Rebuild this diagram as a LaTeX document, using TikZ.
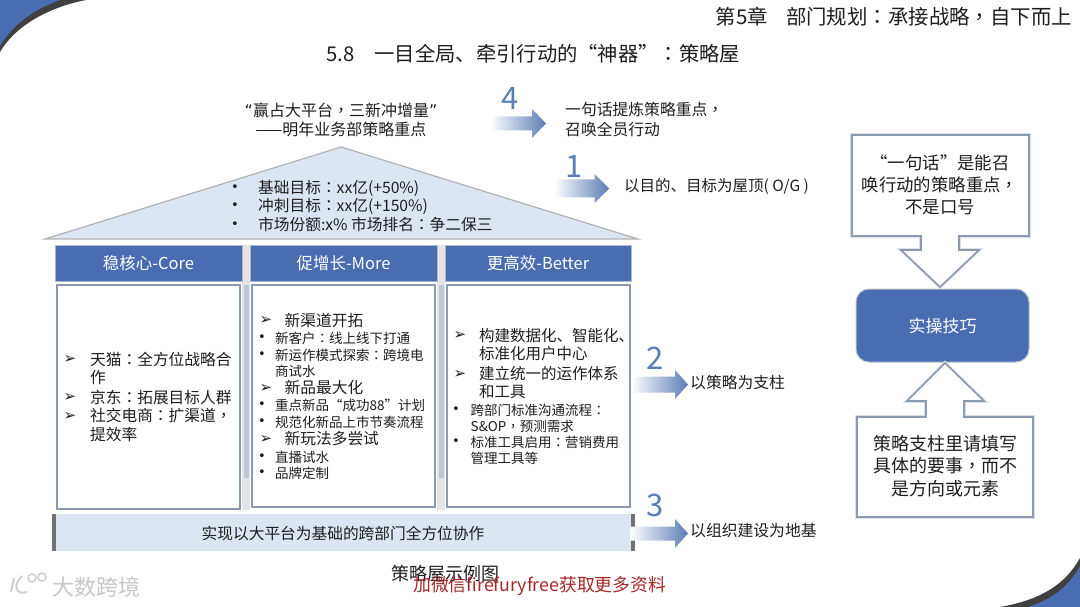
\documentclass[tikz,border=0pt]{standalone}
\usepackage{fontspec}
\setmainfont{Noto Sans CJK SC}
\newfontfamily\tcf{Noto Sans CJK TC}
\newfontfamily\djf{DejaVu Sans}
\newcommand\cl{{\tcf ：}}
\newcommand\cm{{\tcf ，}}
\newcommand\blockarrow[5]{% start, head base, tip, centre y, shaft half height
  \shade[left color=white,right color=numc] (#1,#4-#5) -- (#2,#4-#5) -- (#2,#4-14.5) -- (#3,#4) -- (#2,#4+14.5) -- (#2,#4+#5) -- (#1,#4+#5) -- cycle;}
\definecolor{hblue}{HTML}{4A6CB0}
\definecolor{roof}{HTML}{DCE6F2}
\definecolor{edge}{HTML}{8C9AB0}
\definecolor{numc}{HTML}{5B7DB5}
\definecolor{ink}{HTML}{1E1E1E}
\tikzset{
  sz/.style={font=\fontsize{#1}{#1}\selectfont},
  tl/.style={inner sep=0pt,anchor=west,text=ink},
  tc/.style={inner sep=0pt,anchor=center,text=ink},
  abul/.style={inner sep=0pt,anchor=center,text=ink,font=\djf\fontsize{15}{15}\selectfont},
  dbul/.style={inner sep=0pt,anchor=center,text=ink,font=\djf\fontsize{13}{13}\selectfont},
  num/.style={inner sep=0pt,anchor=center,text=numc,font=\fontsize{31}{31}\selectfont},
  head/.style={fill=hblue,draw=edge!70,line width=0.8pt},
  body/.style={fill=white,draw=edge,line width=2pt},
  callout/.style={fill=white,draw=edge,line width=1.6pt,line join=miter,preaction={draw=edge!30,line width=3.6pt}},
}
\begin{document}
\begin{tikzpicture}[x=1pt,y=-1pt]
\useasboundingbox (0,0) rectangle (1080,607);
\fill[white] (0,0) rectangle (1080,607);
% corners
\fill[black!75] (0,52) .. controls (14,28) and (45,8) .. (86,0) -- (0,0) -- cycle;
\fill[hblue] (0,46) .. controls (12,26) and (32,10) .. (60,0) -- (0,0) -- cycle;
\fill[black!75] (1000,607) .. controls (1040,600) and (1065,585) .. (1080,558) -- (1080,607) -- cycle;
\fill[hblue] (1028,607) .. controls (1050,600) and (1068,588) .. (1080,566) -- (1080,607) -- cycle;
% titles
\node[inner sep=0pt,anchor=east,text=ink,sz=20.4] (chap) at (1072,17) {第5章\hspace{0.9em}部门规划\cl 承接战略\cm 自下而上};
\node[tl,sz=20.3] (title) at (326,54) {5.8\hspace{1em}一目全局、牵引行动的“神器”\cl 策略屋};
% roof
\fill[roof,draw=black!30,line width=1.2pt,line join=miter] (45,239) -- (341,147) -- (638,239) -- cycle;
% gutters
\fill[black!10] (242,245) rectangle (250,510);
\fill[black!10] (437,245) rectangle (445,510);
\fill[edge!55] (244,285) rectangle (249,478);
\fill[edge!55] (439,285) rectangle (444,478);
% headers
\node[head,minimum width=187pt,minimum height=36pt,inner sep=0pt,text=white,sz=16.5] (h1) at (148.5,263) {稳核心-Core};
\node[head,minimum width=187pt,minimum height=36pt,inner sep=0pt,text=white,sz=16.5] (h2) at (343.5,263) {促增长-More};
\node[head,minimum width=186pt,minimum height=36pt,inner sep=0pt,text=white,sz=16.5] (h3) at (538,263) {更高效-Better};
% bodies
\node[body,minimum width=183pt,minimum height=224pt,inner sep=0pt] (b1) at (148.5,397) {};
\node[body,minimum width=183pt,minimum height=222pt,inner sep=0pt] (b2) at (343.5,396) {};
\node[body,minimum width=183pt,minimum height=222pt,inner sep=0pt] (b3) at (538.5,396) {};
% foundation
\fill[roof] (55,514) rectangle (633,551);
\fill[black!55] (52,514) rectangle (56,551);
\fill[black!55] (631,514) rectangle (635,551);
\node[tc,sz=15.7] (found) at (343,533) {实现以大平台为基础的跨部门全方位协作};
% top quote
\node[tc,sz=16] (q1) at (341,110) {{\djf “}赢占大平台\cm 三新冲增量{\djf ”}};
\node[tc,sz=16] (q2) at (341,129) {——明年业务部策略重点};
% roof bullets
\node[dbul] (rb1) at (235,188) {•};
\node[dbul] (rb2) at (235,206) {•};
\node[dbul] (rb3) at (235,225) {•};
\node[tl,sz=15.7] (r1) at (258,188) {基础目标\cl xx亿(+50\%)};
\node[tl,sz=15.7] (r2) at (258,206) {冲刺目标\cl xx亿(+150\%)};
\node[tl,sz=15.7] (r3) at (258,225) {市场份额:x\% 市场排名\cl 争二保三};
% column 1
\node[abul] (c1x) at (70,359) {➢};
\node[abul] (c1y) at (70,397) {➢};
\node[abul] (c1z) at (70,416) {➢};
\node[tl,sz=15.7] (c1a) at (90,359) {天猫\cl 全方位战略合};
\node[tl,sz=15.7] (c1b) at (90,378) {作};
\node[tl,sz=15.7] (c1c) at (90,397) {京东\cl 拓展目标人群};
\node[tl,sz=15.7] (c1d) at (90,416) {社交电商\cl 扩渠道\cm};
\node[tl,sz=15.7] (c1e) at (90,435) {提效率};
% column 2
\node[abul] (c2x) at (266,321) {➢};
\node[abul] (c2y) at (266,388) {➢};
\node[abul] (c2z) at (266,439) {➢};
\node[dbul] (c2p) at (262,338) {•};
\node[dbul] (c2q) at (262,355) {•};
\node[dbul] (c2r) at (262,405) {•};
\node[dbul] (c2s) at (262,422) {•};
\node[dbul] (c2t) at (262,457) {•};
\node[dbul] (c2u) at (262,473) {•};
\node[tl,sz=15.7] (c2a) at (284.5,321) {新渠道开拓};
\node[tl,sz=13.5] (c2b) at (275,338) {新客户\cl 线上线下打通};
\node[tl,sz=13.5] (c2c) at (275,355) {新运作模式探索\cl 跨境电};
\node[tl,sz=13.5] (c2d) at (275,371) {商试水};
\node[tl,sz=15.7] (c2e) at (284.5,388) {新品最大化};
\node[tl,sz=13.5] (c2f) at (275,405) {重点新品“成功88”计划};
\node[tl,sz=13.5] (c2g) at (275,422) {规范化新品上市节奏流程};
\node[tl,sz=15.7] (c2h) at (284.5,439) {新玩法多尝试};
\node[tl,sz=13.5] (c2i) at (275,457) {直播试水};
\node[tl,sz=13.5] (c2j) at (275,473) {品牌定制};
% column 3
\node[abul] (c3x) at (460,336) {➢};
\node[abul] (c3y) at (460,374) {➢};
\node[dbul] (c3p) at (456,410) {•};
\node[dbul] (c3q) at (456,442) {•};
\node[tl,sz=15.5] (c3a) at (479,336) {构建数据化、智能化、};
\node[tl,sz=15.5] (c3b) at (479,354) {标准化用户中心};
\node[tl,sz=15.5] (c3c) at (479,374) {建立统一的运作体系};
\node[tl,sz=15.5] (c3d) at (479,392) {和工具};
\node[tl,sz=13.5] (c3e) at (470.5,410) {跨部门标准沟通流程\cl};
\node[tl,sz=13.5] (c3f) at (470.5,426) {S\&OP\cm 预测需求};
\node[tl,sz=13.5] (c3g) at (470.5,442) {标准工具启用\cl 营销费用};
\node[tl,sz=13.5] (c3h) at (470.5,458) {管理工具等};
% block arrows and numbers
\blockarrow{490}{532}{546}{123.5}{7}
\blockarrow{554}{594.5}{609}{188.5}{9}
\blockarrow{631}{675}{688}{384.5}{8}
\blockarrow{630}{675}{688}{533.5}{7}
\node[num] (n4) at (510,98) {4};
\node[num] (n1) at (574,166) {1};
\node[num] (n2) at (655,358) {2};
\node[num] (n3) at (655,505) {3};
\node[tl,sz=15.8] (t4a) at (565,110) {一句话提炼策略重点\cm};
\node[tl,sz=15.8] (t4b) at (565,129) {召唤全员行动};
\node[tl,sz=15.5] (t1) at (624,186) {以目的、目标为屋顶( O/G )};
\node[tl,sz=15.8] (t2) at (690,383) {以策略为支柱};
\node[tl,sz=15.8] (t3) at (690,531) {以组织建设为地基};
% right column
\draw[callout] (852,135) -- (1029,135) -- (1029,236) -- (959,236) -- (959,250) -- (979,250) -- (940,287) -- (901,250) -- (921,250) -- (921,236) -- (852,236) -- cycle;
\node[tc,sz=17.4] (k1) at (940,163) {“一句话”是能召};
\node[tc,sz=17.4] (k2) at (940,185) {唤行动的策略重点\cm};
\node[tc,sz=17.4] (k3) at (940,207) {不是口号};
\node[fill=hblue,draw=edge!60,line width=1pt,rounded corners=13pt,minimum width=173pt,minimum height=73pt,inner sep=0pt,text=white,sz=17] (skill) at (942.5,325.5) {实操技巧};
\draw[callout] (857,417) -- (926,417) -- (926,401) -- (907,401) -- (945,363) -- (984,401) -- (964,401) -- (964,417) -- (1033,417) -- (1033,517) -- (857,517) -- cycle;
\node[tc,sz=18] (m1) at (945,444) {策略支柱里请填写};
\node[tc,sz=18] (m2) at (945,466) {具体的要事\cm 而不};
\node[tc,sz=18] (m3) at (945,489) {是方向或元素};
% caption and watermarks
\node[tc,sz=18] (cap) at (445.5,574) {策略屋示例图};
\node[inner sep=0pt,anchor=west,text=red!60!black!85,sz=17.8] (wm) at (413,586) {加微信firefuryfree获取更多资料};
\node[inner sep=0pt,anchor=west,text=black!22,sz=22] (wm2) at (52,587) {大数跨境};
\draw[black!18,line width=2pt] (14,578) -- (11,592) (22,576) .. controls (13,584) and (15,596) .. (27,592);
\draw[black!18,line width=1.6pt] (32,578) circle (4pt) (42,577) circle (4pt);
\end{tikzpicture}
\end{document}
